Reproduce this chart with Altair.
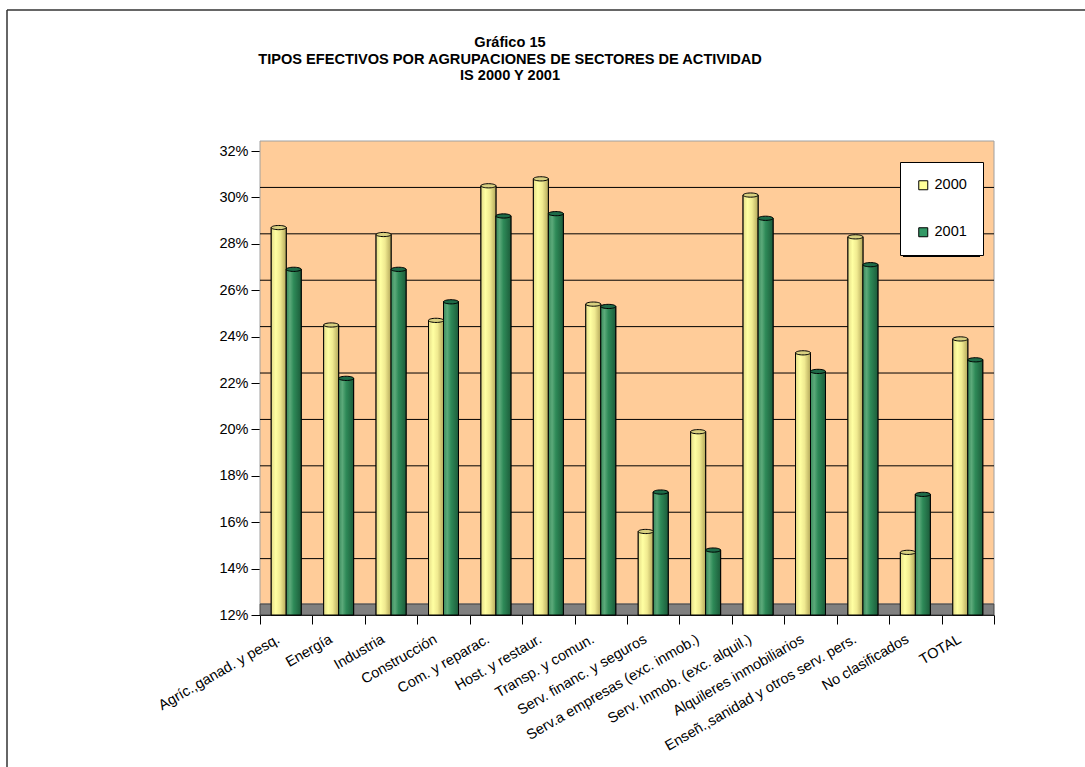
import altair as alt
import pandas as pd

# Sector groupings and effective tax rates (%) for the two years
sectores = [
    "Agríc.,ganad. y pesq.",
    "Energía",
    "Industria",
    "Construcción",
    "Com. y reparac.",
    "Host. y restaur.",
    "Transp. y comun.",
    "Serv. financ. y seguros",
    "Serv.a empresas (exc. inmob.)",
    "Serv. Inmob. (exc. alquil.)",
    "Alquileres inmobiliarios",
    "Enseñ.,sanidad y otros serv. pers.",
    "No clasificados",
    "TOTAL",
]
anios = ["2000", "2001"]
tipo_2000 = [28.7, 24.5, 28.4, 24.7, 30.5, 30.8, 25.4, 15.6, 19.9, 30.1, 23.3, 28.3, 14.7, 23.9]
tipo_2001 = [26.9, 22.2, 26.9, 25.5, 29.2, 29.3, 25.3, 17.3, 14.8, 29.1, 22.5, 27.1, 17.2, 23.0]
marcas_eje = [12, 14, 16, 18, 20, 22, 24, 26, 28, 30, 32]
lineas_fondo = [14, 16, 18, 20, 22, 24, 26, 28, 30]
titulo = [
    "Gráfico 15",
    "TIPOS EFECTIVOS POR AGRUPACIONES DE SECTORES DE ACTIVIDAD",
    "IS 2000 Y 2001",
]

df = pd.DataFrame({
    "sector": sectores * 2,
    "anio": [anios[0]] * len(sectores) + [anios[1]] * len(sectores),
    "tipo": tipo_2000 + tipo_2001,
})
uno = pd.DataFrame({"k": [0]})

W, H = 734, 464
FONT = "Liberation Sans"
FS = 14.5
DEPTH = 0.43  # vertical shift of the back wall (perspective)

y_scale = alt.Scale(domain=[12, 32], nice=False, zero=False)
y_axis = alt.Axis(
    values=marcas_eje, labelExpr="datum.value + '%'", tickSize=9,
    labelPadding=3, grid=False, domainColor="black", tickColor="black",
    labelColor="black", labelFontSize=FS, labelFont=FONT,
)
x_enc = alt.X(
    "sector:N", sort=sectores, title=None,
    scale=alt.Scale(paddingInner=0, paddingOuter=0),
    axis=alt.Axis(
        labelAngle=-30, labelAlign="right", labelBaseline="middle",
        labelOffset=-8, labelPadding=14, tickBand="extent", tickSize=9,
        tickColor="black", domainColor="black", labelColor="black",
        labelFontSize=FS, labelFont=FONT, labelLimit=400,
        labelOverlap=False, grid=False,
    ),
)
xo_enc = alt.XOffset("anio:N", sort=anios,
                     scale=alt.Scale(paddingInner=0, paddingOuter=0.75))
y_enc = alt.Y("tipo:Q", scale=y_scale, axis=y_axis, title=None)


def cilindro(stops):
    return alt.Gradient(
        gradient="linear", x1=0, y1=0, x2=1, y2=0,
        stops=[alt.GradientStop(offset=o, color=c) for o, c in stops],
    )


grad_amarillo = cilindro([(0, "#E4DC88"), (0.3, "#FFFFA2"), (0.6, "#F0EA90"), (1, "#B4A85A")])
grad_verde = cilindro([(0, "#3A8A5C"), (0.25, "#5CAA7A"), (0.5, "#2E8A58"), (1, "#1C5C3A")])

# Back wall, floor and wall gridlines
pared = alt.Chart(uno).mark_rect(fill="#FFCC99", stroke="#A0A0A0", strokeWidth=1).encode(
    x=alt.value(0), x2=alt.value(W), y=alt.value(-10), y2=alt.value(H - 11)
)
suelo = alt.Chart(uno).mark_rect(fill="#808080", stroke="#404040", strokeWidth=1).encode(
    x=alt.value(0), x2=alt.value(W), y=alt.value(H - 11), y2=alt.value(H)
)
rejilla = alt.Chart(pd.DataFrame({"g": lineas_fondo})).transform_calculate(
    gy=f"datum.g + {DEPTH}"
).mark_rule(color="black", strokeWidth=1).encode(
    y=alt.Y("gy:Q", scale=y_scale, axis=y_axis, title=None),
    x=alt.value(0), x2=alt.value(W),
)

# Columns: a flat base that carries the legend, then shaded cylinders on top
base = alt.Chart(df).mark_bar(stroke="black", strokeWidth=1).encode(
    x=x_enc, xOffset=xo_enc, y=y_enc, y2=alt.datum(12),
    color=alt.Color(
        "anio:N", sort=anios,
        scale=alt.Scale(domain=anios, range=["#FFFF99", "#339966"]),
        legend=alt.Legend(
            title=None, orient="none", legendX=640, legendY=11,
            fillColor="white", strokeColor="black", padding=16,
            rowPadding=32, symbolType="square", symbolSize=81,
            symbolStrokeColor="black", symbolStrokeWidth=1,
            labelFontSize=FS, labelFont=FONT, labelColor="black",
            labelOffset=4,
        ),
    ),
)


def columnas(anio, grad):
    return alt.Chart(df).transform_filter(alt.datum.anio == anio).mark_bar(
        fill=grad, stroke="black", strokeWidth=1
    ).encode(x=x_enc, xOffset=xo_enc, y=y_enc, y2=alt.datum(12))


col_2000 = columnas("2000", grad_amarillo)
col_2001 = columnas("2001", grad_verde)

ELIPSE = "M-1,0 A1,0.28 0 1,1 1,0 A1,0.28 0 1,1 -1,0 Z"
tapas = alt.Chart(df).mark_point(
    shape=ELIPSE, size=225, filled=True, stroke="black", strokeWidth=1, opacity=1
).encode(
    x=x_enc, xOffset=xo_enc, y=y_enc,
    fill=alt.Fill("anio:N", sort=anios,
                  scale=alt.Scale(domain=anios, range=["#D8D080", "#1E6B48"]),
                  legend=None),
)

sombra = alt.Chart(uno).mark_rect(fill="black").encode(
    x=alt.value(643), x2=alt.value(720), y=alt.value(14), y2=alt.value(106)
)

texto_titulo = alt.Chart(uno).mark_text(
    text=titulo, font=FONT, fontSize=14.6, fontWeight="bold", align="center",
    baseline="alphabetic", lineHeight=16.5, color="black",
).encode(x=alt.value(250), y=alt.value(-104))

marco_izq = alt.Chart(uno).mark_rule(color="#333333", strokeWidth=1.5).encode(
    x=alt.value(-253), y=alt.value(-141), y2=alt.value(616)
)
marco_sup = alt.Chart(uno).mark_rule(color="#333333", strokeWidth=1.5).encode(
    x=alt.value(-253), x2=alt.value(825), y=alt.value(-141)
)

chart = alt.layer(
    pared, suelo, rejilla, base, col_2000, col_2001, tapas,
    sombra, texto_titulo, marco_izq, marco_sup,
).properties(
    width=W, height=H,
    padding={"left": 260, "top": 151, "right": 91, "bottom": 152},
    autosize=alt.AutoSizeParams(type="none"),
    background="white",
).configure_view(strokeWidth=0)

chart.save("out.html", embed_options={"renderer": "svg", "actions": False})
